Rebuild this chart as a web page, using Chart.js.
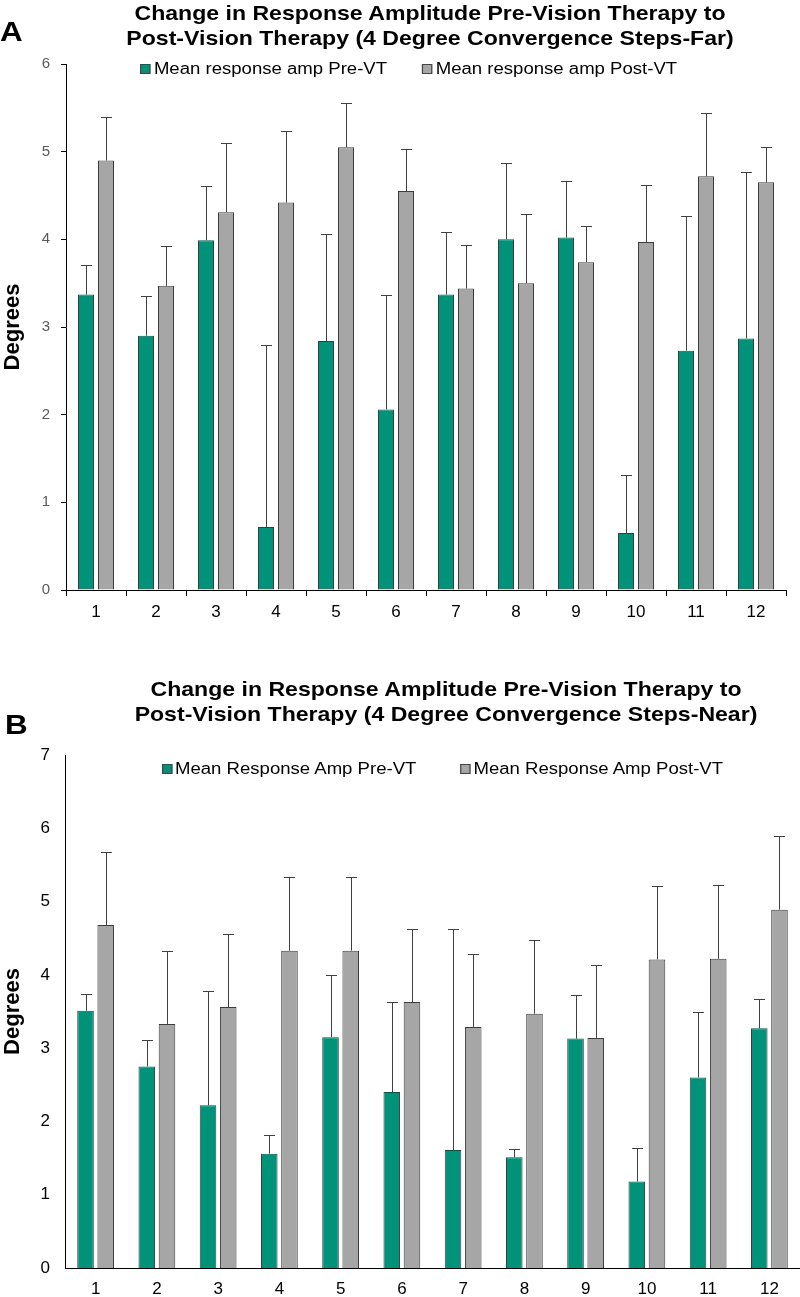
<!DOCTYPE html>
<html>
<head>
<meta charset="utf-8">
<title>Response amplitude pre/post vision therapy</title>
<script src="https://cdn.jsdelivr.net/npm/chart.js@4.4.1/dist/chart.umd.min.js"></script>
<style>
  body { margin: 0; background: #fff; font-family: 'Liberation Sans', Arial, sans-serif; color: #000; }
  #page { position: relative; width: 800px; height: 1297px; overflow: hidden; }
  canvas { position: absolute; left: 0; }
  #chartA { top: 0; }
  #chartB { top: 640px; }
  .panel { position: absolute; font-weight: bold; font-size: 28px; line-height: 28px; transform-origin: 0 0; transform: scaleX(1.12); }
  .title { position: absolute; font-weight: bold; font-size: 19.9px; line-height: 25px; text-align: center; white-space: nowrap; transform: translateX(-50%) scaleX(1.16); }
  .legend { position: absolute; margin: 0; padding: 0; list-style: none; display: flex; white-space: nowrap; font-size: 16px; line-height: 20px; transform-origin: 0 50%; transform: scaleX(1.16); z-index: 2; }
  .legend li { display: flex; align-items: center; }
  .legend .swatch { display: inline-block; box-sizing: border-box; width: 8.6px; height: 10px; border: 1px solid #444; }
</style>
</head>
<body>
<div id="page">
  <canvas id="chartA" width="800" height="640"></canvas>
  <canvas id="chartB" width="800" height="657"></canvas>

  <div class="panel" style="left:0; top:18px;">A</div>
  <div class="title" style="left:430px; top:1px;">Change in Response Amplitude Pre-Vision Therapy to<br>Post-Vision Therapy (4 Degree Convergence Steps-Far)</div>
  <ul class="legend" id="legendA" style="left:140px; top:59px;"></ul>

  <div class="panel" style="left:5px; top:711px;">B</div>
  <div class="title" style="left:446px; top:677px;">Change in Response Amplitude Pre-Vision Therapy to<br>Post-Vision Therapy (4 Degree Convergence Steps-Near)</div>
  <ul class="legend" id="legendB" style="left:162px; top:759px;"></ul>
</div>

<script>
// subjects
const subjects = ['1', '2', '3', '4', '5', '6', '7', '8', '9', '10', '11', '12'];

// A: convergence steps far (degrees), mean and error (+SD)
const farPre = [3.37, 2.90, 3.99, 0.72, 2.84, 2.06, 3.37, 4.00, 4.02, 0.65, 2.73, 2.87];
const farPreErr = [0.34, 0.45, 0.62, 2.07, 1.22, 1.30, 0.71, 0.87, 0.64, 0.66, 1.54, 1.90];
const farPost = [4.90, 3.47, 4.31, 4.42, 5.05, 4.55, 3.44, 3.50, 3.74, 3.97, 4.72, 4.65];
const farPostErr = [0.49, 0.45, 0.79, 0.82, 0.51, 0.48, 0.50, 0.79, 0.41, 0.65, 0.72, 0.40];

// B: convergence steps near (degrees)
const nearPre = [3.51, 2.75, 2.22, 1.56, 3.15, 2.40, 1.61, 1.51, 3.13, 1.18, 2.60, 3.27];
const nearPreErr = [0.23, 0.36, 1.56, 0.26, 0.85, 1.23, 3.02, 0.11, 0.60, 0.46, 0.90, 0.40];
const nearPost = [4.68, 3.33, 3.56, 4.33, 4.33, 3.63, 3.29, 3.47, 3.14, 4.21, 4.22, 4.89];
const nearPostErr = [1.00, 1.00, 1.00, 1.01, 1.01, 1.00, 1.00, 1.00, 1.00, 1.00, 1.00, 1.01];

const teal = '#00937a';
const grey = '#a6a6a6';
const edge = '#3c3c3c';

Chart.defaults.font.family = "'Liberation Sans', Arial, sans-serif";
Chart.defaults.color = '#000';

//one-sided (upper) error bars
const errorBarPlugin = {
  id: 'errorBars',
  afterDatasetsDraw(chart, args, opts) {
    const { ctx } = chart;
    const yScale = chart.scales.y;
    ctx.save();
    ctx.strokeStyle = opts.color;
    ctx.lineWidth = 1;
    chart.data.datasets.forEach((ds, i) => {
      const meta = chart.getDatasetMeta(i);
      meta.data.forEach((bar, j) => {
        const x = Math.round(bar.x) + 0.5;
        const top = Math.round(yScale.getPixelForValue(ds.data[j] + ds.errors[j])) + 0.5;
        ctx.beginPath();
        ctx.moveTo(x, bar.y);
        ctx.lineTo(x, top);
        ctx.moveTo(x - opts.capWidth / 2, top);
        ctx.lineTo(x + opts.capWidth / 2, top);
        ctx.stroke();
      });
    });
    ctx.restore();
  },
};

//legend written into a list next to the canvas
const htmlLegendPlugin = {
  id: 'htmlLegend',
  afterUpdate(chart, args, opts) {
    const list = document.getElementById(opts.containerID);
    list.innerHTML = '';
    const items = chart.options.plugins.legend.labels.generateLabels(chart);
    items.forEach((item, i) => {
      const li = document.createElement('li');
      if (i > 0) li.style.marginLeft = opts.itemGap + 'px';
      const swatch = document.createElement('span');
      swatch.className = 'swatch';
      swatch.style.background = item.fillStyle;
      swatch.style.marginRight = opts.boxGap + 'px';
      const text = document.createElement('span');
      text.textContent = item.text;
      li.append(swatch, text);
      list.append(li);
    });
  },
};

const makeChart = (id, cfg) => {
  return new Chart(document.getElementById(id), {
    type: 'bar',
    data: {
      labels: subjects,
      datasets: [
        {
          label: cfg.preLabel,
          data: cfg.pre,
          errors: cfg.preErr,
          backgroundColor: teal,
          borderColor: edge,
          borderWidth: 1,
          barPercentage: cfg.barPct,
          categoryPercentage: cfg.catPct,
        },
        {
          label: cfg.postLabel,
          data: cfg.post,
          errors: cfg.postErr,
          backgroundColor: grey,
          borderColor: edge,
          borderWidth: 1,
          barPercentage: cfg.barPct,
          categoryPercentage: cfg.catPct,
        },
      ],
    },
    options: {
      responsive: false,
      animation: false,
      layout: { padding: cfg.padding },
      plugins: {
        legend: { display: false },
        title: { display: false },
        tooltip: { enabled: false },
        errorBars: { color: '#404040', capWidth: 11 },
        htmlLegend: cfg.legend,
      },
      scales: {
        x: {
          ticks: { color: '#000', font: { size: cfg.xFont }, padding: cfg.xPad },
          grid: {
            display: cfg.ticks,
            drawTicks: cfg.ticks,
            drawOnChartArea: false,
            offset: true,
            tickLength: 6,
            color: '#000',
          },
          border: { display: true, color: '#000' },
          afterFit: (s) => {
            s.height = cfg.xHeight;
          },
        },
        y: {
          min: 0,
          max: cfg.yMax,
          ticks: { stepSize: 1, color: cfg.yColor, font: { size: cfg.yFont }, padding: cfg.yPad },
          grid: {
            display: cfg.ticks,
            drawTicks: cfg.ticks,
            drawOnChartArea: false,
            tickLength: 5,
            color: '#000',
          },
          border: { display: true, color: '#000' },
          title: {
            display: true,
            text: 'Degrees',
            color: '#000',
            font: { size: 22, weight: 'bold' },
            padding: { top: 0, bottom: 0 },
          },
          afterFit: (s) => {
            s.width = cfg.yWidth;
          },
        },
      },
    },
    plugins: [errorBarPlugin, htmlLegendPlugin],
  });
};

makeChart('chartA', {
  preLabel: 'Mean response amp Pre-VT',
  postLabel: 'Mean response amp Post-VT',
  pre: farPre,
  preErr: farPreErr,
  post: farPost,
  postErr: farPostErr,
  yMax: 6,
  ticks: true,
  yColor: '#595959',
  yFont: 15,
  yPad: 11,
  xFont: 17,
  xPad: 6,
  yWidth: 66,
  xHeight: 50,
  padding: { top: 64, right: 14, bottom: 0, left: 0 },
  barPct: 0.8,
  catPct: 0.667,
  legend: { containerID: 'legendA', boxGap: 3.4, itemGap: 30 },
});

makeChart('chartB', {
  preLabel: 'Mean Response Amp Pre-VT',
  postLabel: 'Mean Response Amp Post-VT',
  pre: nearPre,
  preErr: nearPreErr,
  post: nearPost,
  postErr: nearPostErr,
  yMax: 7,
  ticks: false,
  yColor: '#000',
  yFont: 17,
  yPad: 15,
  xFont: 17,
  xPad: 11,
  yWidth: 65,
  xHeight: 29,
  padding: { top: 115, right: 0, bottom: 0, left: 0 },
  barPct: 0.82,
  catPct: 0.66,
  legend: { containerID: 'legendB', boxGap: 2.6, itemGap: 38 },
});
</script>
</body>
</html>
